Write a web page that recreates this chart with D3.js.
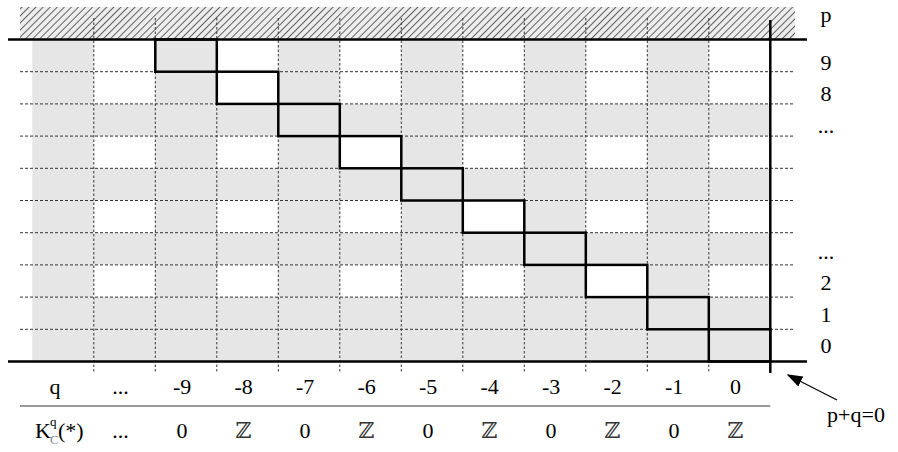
<!DOCTYPE html>
<html>
<head>
<meta charset="utf-8">
<script src="https://cdn.jsdelivr.net/npm/d3@7/dist/d3.min.js"></script>
<style>
  body { margin: 0; background: #fff; }
  text { font-family: "Liberation Serif", "DejaVu Serif", serif; }
</style>
</head>
<body>
<script>
// columns: header column, "...", then q = -9 .. 0
var columns = ["q", "...", "-9", "-8", "-7", "-6", "-5", "-4", "-3", "-2", "-1", "0"];
// K_C^q(*) values under each q column
var kValues = ["", "...", "0", "\u2124", "0", "\u2124", "0", "\u2124", "0", "\u2124", "0", "\u2124"];
// p labels, top row to bottom row
var pLabels = ["9", "8", "...", "", "", "", "...", "2", "1", "0"];
var pValues = [9, 8, 7, 6, 5, 4, 3, 2, 1, 0];
// cell shading, G = gray, W = white (rows top to bottom)
var shading = [
  "GWGWGWGWGWGW",
  "GWGWGWGWGWGW",
  "GGGGGGGGGGGG",
  "GWGWGWGWGWGW",
  "GGGGGGGGGGGG",
  "GWGWGWGWGWGW",
  "GGGGGGGGGGGG",
  "GWGWGWGWGWGW",
  "GGGGGGGGGGGG",
  "GGGGGGGGGGGG"
];
// staircase cells on the line p+q=0
var stairQ = ["-9", "-8", "-7", "-6", "-5", "-4", "-3", "-2", "-1", "0"];

var width = 898, height = 452;
var fs = 22;
var svg = d3.select("body").append("svg")
    .attr("width", width)
    .attr("height", height);

var x = d3.scaleBand().domain(columns).range([32.3, 770.3]);
var y = d3.scaleBand().domain(pValues).range([39.5, 361.5]);
var labelY = d3.scaleLinear().domain([0, 9]).range([70, 353]);

var gridTop = y.range()[0], gridBottom = y.range()[1];
var gridRight = x.range()[1];

// hatch pattern above the grid
var defs = svg.append("defs");
var pat = defs.append("pattern")
    .attr("id", "hatch")
    .attr("patternUnits", "userSpaceOnUse")
    .attr("width", 5).attr("height", 5)
    .attr("patternTransform", "rotate(45)");
pat.append("rect").attr("width", 5).attr("height", 5).attr("fill", "#ededed");
pat.append("line").attr("x1", 0).attr("y1", 0).attr("x2", 0).attr("y2", 5)
    .attr("stroke", "#333").attr("stroke-width", 1.5);

defs.append("marker")
    .attr("id", "arrow")
    .attr("viewBox", "0 0 10 10")
    .attr("refX", 9).attr("refY", 5)
    .attr("markerWidth", 16).attr("markerHeight", 16)
    .attr("markerUnits", "userSpaceOnUse")
    .attr("orient", "auto")
  .append("path").attr("d", "M0,1.5 L10,5 L0,8.5 Z").attr("fill", "#000");

svg.append("rect")
    .attr("x", 20).attr("y", 7)
    .attr("width", 795 - 20).attr("height", gridTop - 7)
    .attr("fill", "url(#hatch)");

// cells
var cells = [];
pValues.forEach(function(p, r) {
  columns.forEach(function(c, i) {
    cells.push({ p: p, c: c, s: shading[r][i] });
  });
});
svg.append("g").selectAll("rect")
  .data(cells)
  .join("rect")
    .attr("x", function(d) { return x(d.c); })
    .attr("y", function(d) { return y(d.p); })
    .attr("width", x.bandwidth())
    .attr("height", y.bandwidth())
    .attr("fill", function(d) { return d.s === "G" ? "#e6e6e6" : "#fff"; });

// dashed grid
svg.append("g").selectAll("line")
  .data(columns.slice(1))
  .join("line")
    .attr("x1", function(d) { return x(d); })
    .attr("x2", function(d) { return x(d); })
    .attr("y1", 18).attr("y2", 373)
    .attr("stroke", "#333").attr("stroke-width", 1)
    .attr("stroke-dasharray", "2.5,2");

svg.append("g").selectAll("line")
  .data(pValues.slice(1))
  .join("line")
    .attr("x1", 20).attr("x2", 795)
    .attr("y1", function(d) { return y(d); })
    .attr("y2", function(d) { return y(d); })
    .attr("stroke", "#333").attr("stroke-width", 1)
    .attr("stroke-dasharray", "3,2");

// staircase boxes
svg.append("g").selectAll("rect")
  .data(stairQ)
  .join("rect")
    .attr("x", function(d) { return x(d); })
    .attr("y", function(d) { return y(-(+d)); })
    .attr("width", x.bandwidth())
    .attr("height", y.bandwidth())
    .attr("fill", "none")
    .attr("stroke", "#000").attr("stroke-width", 2.5);

// axes lines
svg.append("line").attr("x1", 8).attr("x2", 807).attr("y1", gridTop).attr("y2", gridTop)
    .attr("stroke", "#000").attr("stroke-width", 2.5);
svg.append("line").attr("x1", 8).attr("x2", 807).attr("y1", gridBottom).attr("y2", gridBottom)
    .attr("stroke", "#000").attr("stroke-width", 2.5);
svg.append("line").attr("x1", gridRight).attr("x2", gridRight).attr("y1", 20).attr("y2", 373)
    .attr("stroke", "#000").attr("stroke-width", 2.5);

// separator under q row
svg.append("line").attr("x1", 20).attr("x2", gridRight).attr("y1", 406).attr("y2", 406)
    .attr("stroke", "#333").attr("stroke-width", 1);

// p labels
svg.append("text").attr("x", 826).attr("y", 22).attr("text-anchor", "middle")
    .attr("font-size", fs).text("p");
svg.append("g").selectAll("text")
  .data(pLabels)
  .join("text")
    .attr("x", 826)
    .attr("y", function(d, i) { return labelY(i); })
    .attr("text-anchor", "middle")
    .attr("font-size", fs)
    .text(function(d) { return d; });

// q labels
svg.append("g").selectAll("text")
  .data(columns)
  .join("text")
    .attr("x", function(d, i) { return i === 0 ? 55 : x(d) + x.bandwidth() / 2 - 4; })
    .attr("y", 394)
    .attr("text-anchor", "middle")
    .attr("font-size", fs)
    .text(function(d) { return d; });

// K row
svg.append("g").selectAll("text")
  .data(kValues)
  .join("text")
    .attr("x", function(d, i) { return x(columns[i]) + x.bandwidth() / 2 - 4; })
    .attr("y", 438)
    .attr("text-anchor", "middle")
    .attr("font-size", fs)
    .attr("fill", function(d) { return d === "\u2124" ? "#333" : "#000"; })
    .text(function(d) { return d; });

var kl = svg.append("g");
kl.append("text").attr("x", 35).attr("y", 438).attr("font-size", fs).text("K");
kl.append("text").attr("x", 50).attr("y", 426).attr("font-size", 13).text("q");
kl.append("text").attr("x", 50).attr("y", 444).attr("font-size", 13).attr("fill", "#888").text("C");
kl.append("text").attr("x", 58).attr("y", 438).attr("font-size", fs).text("(*)");

// p+q=0 arrow
svg.append("line")
    .attr("x1", 837).attr("y1", 400).attr("x2", 788).attr("y2", 375)
    .attr("stroke", "#000").attr("stroke-width", 1.2)
    .attr("marker-end", "url(#arrow)");
svg.append("text").attr("x", 856).attr("y", 422).attr("text-anchor", "middle")
    .attr("font-size", fs).text("p+q=0");
</script>
</body>
</html>
